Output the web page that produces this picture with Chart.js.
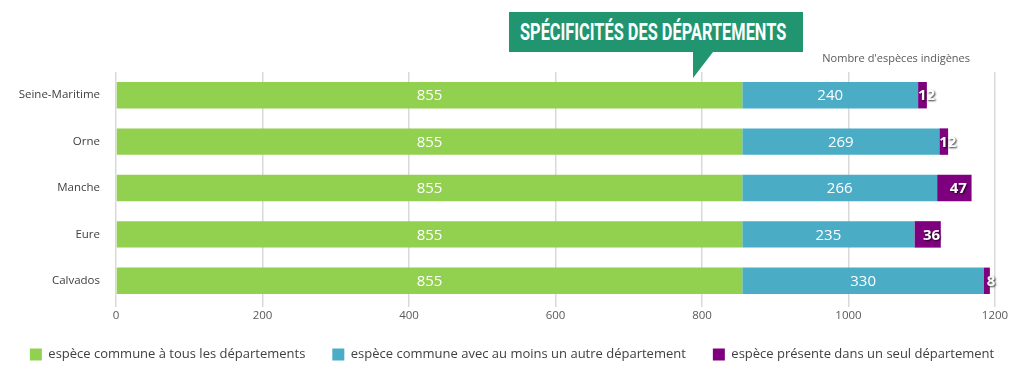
<!DOCTYPE html>
<html>
<head>
<meta charset="utf-8">
<script src="https://cdn.jsdelivr.net/npm/chart.js@4/dist/chart.umd.min.js"></script>
<style>
  html, body { margin: 0; padding: 0; background: #fff; }
  #wrap { position: relative; width: 1024px; height: 372px; }
  #title {
    position: absolute; left: 509px; top: 12px; width: 294px; height: 40px;
    background: #21956f;
  }
  #title span {
    position: absolute; left: 11px; top: 0; color: #fff;
    font-family: Roboto, sans-serif; font-weight: bold; font-size: 24px; line-height: 40px;
    white-space: nowrap; transform-origin: 0 50%;
  }
  #title:after {
    content: ""; position: absolute; left: 184px; top: 40px;
    border-top: 26px solid #21956f; border-right: 20px solid transparent;
  }
</style>
</head>
<body>
<div id="wrap">
  <canvas id="bar-chart" width="1024" height="372"></canvas>
  <div id="title"><span id="title-text">SPÉCIFICITÉS DES DÉPARTEMENTS</span></div>
</div>
<script>
// departements
var departements = ["Seine-Maritime", "Orne", "Manche", "Eure", "Calvados"];
var communeTous = [855, 855, 855, 855, 855];
var communeAutre = [240, 269, 266, 235, 330];
var seulDep = [12, 12, 47, 36, 8];
var xTicks = [0, 200, 400, 600, 800, 1000, 1200];
var unitLabel = "Nombre d'espèces indigènes";

// squeeze the title to look condensed
var t = document.getElementById("title-text");
t.style.transform = "scaleX(" + (266 / t.offsetWidth) + ")";

// white numbers in the bars
var barLabels = {
    id: 'barLabels',
    afterDatasetsDraw: function (chart) {
        var ctx = chart.ctx;
        ctx.save();
        ctx.textAlign = 'center';
        ctx.textBaseline = 'middle';
        chart.data.datasets.forEach(function (ds, i) {
            chart.getDatasetMeta(i).data.forEach(function (bar, j) {
                var cx = (bar.x + bar.base) / 2;
                if (i == 2) {
                    ctx.font = 'bold 15px "Open Sans"';
                    ctx.shadowColor = 'rgba(0,0,0,0.8)';
                    ctx.shadowOffsetX = 1;
                    ctx.shadowOffsetY = 1;
                    ctx.shadowBlur = 2;
                    cx += 4;
                } else {
                    ctx.font = '15px "Open Sans"';
                    ctx.shadowColor = 'transparent';
                }
                ctx.fillStyle = '#fff';
                ctx.fillText(ds.data[j], cx, bar.y + 1);
            });
        });
        ctx.restore();
        // axis title on top right
        ctx.save();
        ctx.font = '11px "Open Sans"';
        ctx.fillStyle = '#595959';
        ctx.textAlign = 'right';
        ctx.textBaseline = 'middle';
        ctx.fillText(unitLabel, 970, 59);
        ctx.restore();
    }
};

new Chart(document.getElementById("bar-chart"), {
    type: 'bar',
    data: {
        labels: departements,
        datasets: [
            {
                label: "espèce commune à tous les départements",
                backgroundColor: "#92d050",
                data: communeTous
            },
            {
                label: "espèce commune avec au moins un autre département",
                backgroundColor: "#4bacc6",
                data: communeAutre
            },
            {
                label: "espèce présente dans un seul département",
                backgroundColor: "#7f007f",
                data: seulDep
            }
        ]
    },
    options: {
        indexAxis: 'y',
        responsive: false,
        animation: false,
        devicePixelRatio: 1,
        layout: { padding: { top: 72, right: 0, left: 0, bottom: 1 } },
        datasets: { bar: { barPercentage: 0.57, categoryPercentage: 1 } },
        scales: {
            x: {
                stacked: true,
                min: 0,
                max: 1200,
                afterBuildTicks: function (axis) {
                    axis.ticks = xTicks.map(function (v) { return { value: v }; });
                },
                afterFit: function (axis) { axis.height = 17; },
                grid: { color: '#d9d9d9', lineWidth: 1.5, tickLength: 3 },
                border: { display: false },
                ticks: {
                    color: '#595959', font: { family: 'Open Sans', size: 11.5 }, padding: 2,
                    callback: function (v) { return String(v); }
                }
            },
            y: {
                stacked: true,
                grid: { display: false },
                border: { display: false },
                afterFit: function (axis) { axis.width = 116; },
                ticks: { color: '#404040', font: { family: 'Open Sans', size: 11.5 }, padding: 8 }
            },
            // empty axis on the right, only to keep space free
            yRight: {
                type: 'category',
                axis: 'y',
                position: 'right',
                grid: { display: false },
                border: { display: false },
                ticks: { display: false },
                afterFit: function (axis) { axis.width = 29; }
            }
        },
        plugins: {
            legend: {
                position: 'bottom',
                labels: {
                    boxWidth: 12,
                    boxHeight: 12,
                    padding: 27,
                    color: '#404040',
                    font: { family: 'Open Sans', size: 13 }
                }
            },
            tooltip: { enabled: false }
        }
    },
    plugins: [barLabels]
});
</script>
</body>
</html>
